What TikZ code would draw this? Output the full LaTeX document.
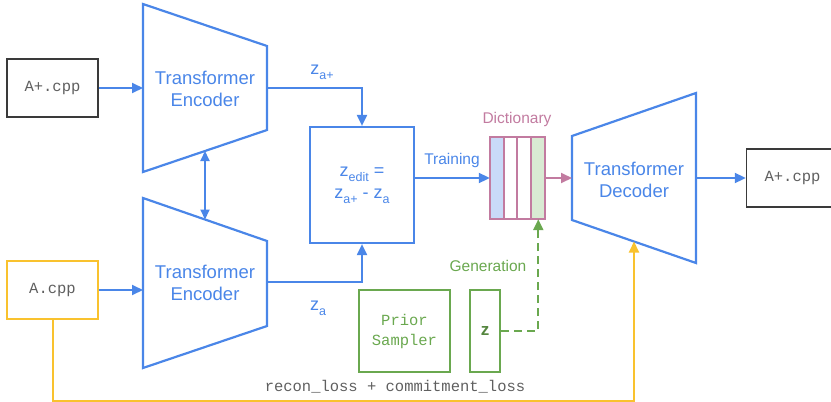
\documentclass[tikz,border=0pt]{standalone}
\usepackage{fontspec}
\setmainfont{Liberation Sans}
\setmonofont{Liberation Mono}
\usetikzlibrary{arrows.meta,calc}
\definecolor{cblue}{HTML}{4A86E8}
\definecolor{cyellow}{HTML}{F9C22E}
\definecolor{cgreen}{HTML}{6AA84F}
\definecolor{cmauve}{HTML}{C27BA0}
\definecolor{lblue}{HTML}{C9DAF8}
\definecolor{lgreen}{HTML}{D9EAD3}
\definecolor{cdark}{HTML}{3A3A3A}
\definecolor{cgray}{HTML}{5F5F5F}
\newcommand\zs[1]{z\raisebox{-5pt}{\fontsize{12.5}{12}\selectfont #1}}
\begin{document}
\begin{tikzpicture}[x=1pt,y=-1pt,
  tip/.style={-{Triangle[length=11pt,width=10pt]}},
  barrow/.style={tip,draw=cblue,line width=2pt},
  marrow/.style={tip,draw=cmauve,line width=2pt},
  garrow/.style={-{Triangle[length=11pt,width=10pt,sep=0pt]},draw=cgreen,line width=2pt,dash pattern=on 8pt off 5pt},
  yarrow/.style={tip,draw=cyellow,line width=2pt},
  enc/.style={draw=cblue,line width=2.2pt,line join=miter},
  enctext/.style={text=cblue,align=center,font=\fontsize{18.5}{22}\selectfont},
  filebox/.style={draw,line width=1.4pt,minimum width=91pt,minimum height=58pt,inner sep=0pt,
     text=cgray,font=\ttfamily\fontsize{15.5}{18}\selectfont},
  lbl/.style={font=\fontsize{15.5}{18}\selectfont,inner sep=0pt},
  greenbox/.style={draw=cgreen,line width=2.2pt,minimum height=82pt,inner sep=0pt,text=cgreen}
]
\useasboundingbox (0,0) rectangle (831,402);

% input boxes
\node[filebox,draw=cdark] (inp) at (52.5,88) {A+.cpp};
\node[filebox,draw=cyellow] (acpp) at (52.5,290) {A.cpp};

% encoders
\coordinate (e1tl) at (143,4);   \coordinate (e1tr) at (267,46);
\coordinate (e1br) at (267,130); \coordinate (e1bl) at (143,172);
\draw[enc] (e1tl)--(e1tr)--(e1br)--(e1bl)--cycle;
\node[enctext] (e1) at (205,89) {Transformer\\Encoder};

\coordinate (e2tl) at (143,198); \coordinate (e2tr) at (267,241);
\coordinate (e2br) at (267,326); \coordinate (e2bl) at (143,368);
\draw[enc] (e2tl)--(e2tr)--(e2br)--(e2bl)--cycle;
\node[enctext] (e2) at (205,283) {Transformer\\Encoder};

\draw[barrow] (inp.east) -- (inp.east -| e1tl);
\draw[barrow] (acpp.east) -- (acpp.east -| e2tl);
\draw[cblue,line width=2pt,{Triangle[length=10pt,width=9pt]}-{Triangle[length=10pt,width=9pt]}]
  ($(e1bl)!0.5!(e1br)$) -- ($(e2tl)!0.5!(e2tr)$);

% z_edit box
\node[draw=cblue,line width=2.2pt,minimum width=104pt,minimum height=116pt,inner sep=0pt,
      text=cblue,align=center,font=\fontsize{18}{22}\selectfont] (ze) at (362,185)
      {\zs{edit} =\\\zs{a+} - \zs{a}};
\coordinate (e1out) at (267,88);
\coordinate (e2out) at (267,282);
\draw[barrow] (e1out) -| (ze.north);
\draw[barrow] (e2out) -| (ze.south);
\node[text=cblue,font=\fontsize{18}{20}\selectfont,inner sep=0pt] (lza1) at (322,72) {\zs{a+}};
\node[text=cblue,font=\fontsize{18}{20}\selectfont,inner sep=0pt] (lza) at (318,308) {\zs{a}};

% dictionary
\path node[minimum width=55pt,minimum height=82pt,inner sep=0pt] (dict) at (517.5,178) {};
\fill[lblue] (dict.north west) rectangle ($(dict.south west)+(13.75,0)$);
\fill[lgreen] ($(dict.north east)+(-13.75,0)$) rectangle (dict.south east);
\draw[cmauve,line width=2pt] (dict.north west) rectangle (dict.south east);
\foreach \i in {1,2,3}{
  \draw[cmauve,line width=2pt] ($(dict.north west)+(13.75*\i,0)$) -- ($(dict.south west)+(13.75*\i,0)$);
}
\coordinate (dcell) at ($(dict.south east)+(-6.9,0)$);
\node[lbl,text=cmauve] (dlabel) at (517,119) {Dictionary};

\draw[barrow] (ze.east |- dict.west) -- (dict.west);
\node[lbl,text=cblue] (ltrain) at (452,160) {Training};

% decoder
\coordinate (dtl) at (572,136); \coordinate (dtr) at (696,93);
\coordinate (dbr) at (696,263); \coordinate (dbl) at (572,220);
\draw[enc] (dtl)--(dtr)--(dbr)--(dbl)--cycle;
\node[enctext] (dec) at (634,180) {Transformer\\Decoder};
\draw[marrow] (dict.east) -- (dict.east -| dtl);

% output
\node[filebox,draw=cdark,minimum width=92pt] (out) at (792.5,178) {A+.cpp};
\draw[barrow] (dict.east -| dtr) -- (out.west);

% generation
\node[greenbox,minimum width=91pt,align=center,font=\ttfamily\fontsize{15.5}{20}\selectfont] (prior) at (404.5,331) {Prior\\Sampler};
\node[greenbox,minimum width=30pt,font=\fontsize{17}{18}\selectfont\bfseries,text=cgreen!80!black] (zb) at (485,331) {z};
\draw[garrow] (zb.east) -| (dcell);
\node[lbl,text=cgreen] (lgen) at (488,266) {Generation};

% loss
\coordinate (ybot) at (0,400.5);
\coordinate (decb) at ($(dbl)!0.5!(dbr)$);
\draw[yarrow] (acpp.south) -- (acpp.south |- ybot) -| (decb);
\node[font=\ttfamily\fontsize{15.5}{18}\selectfont,text=cgray,inner sep=0pt] (loss) at (395,387) {recon\_loss + commitment\_loss};
\end{tikzpicture}
\end{document}
